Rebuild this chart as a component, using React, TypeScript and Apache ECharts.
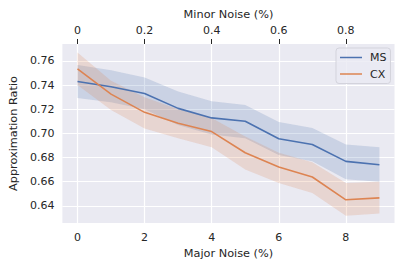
import React, { useEffect, useRef } from "react";
import * as echarts from "echarts";

const majorNoise = [0, 1, 2, 3, 4, 5, 6, 7, 8, 9];
const msMean = [0.743, 0.7386, 0.733, 0.7207, 0.7128, 0.7101, 0.6955, 0.6908, 0.6768, 0.674];
const msUpper = [0.7567, 0.7523, 0.7463, 0.7347, 0.7265, 0.7235, 0.7095, 0.7045, 0.6908, 0.6886];
const msLower = [0.7292, 0.7257, 0.72, 0.707, 0.699, 0.696, 0.682, 0.677, 0.662, 0.66];
const cxMean = [0.7534, 0.7325, 0.7174, 0.7084, 0.7015, 0.684, 0.6721, 0.6639, 0.645, 0.6466];
const cxUpper = [0.7669, 0.7435, 0.73, 0.72, 0.7128, 0.6975, 0.684, 0.676, 0.659, 0.66];
const cxLower = [0.74, 0.7194, 0.704, 0.696, 0.6886, 0.67, 0.659, 0.6507, 0.6318, 0.6337];
const majorTicks = [0, 2, 4, 6, 8];
const minorTicks = [0, 0.2, 0.4, 0.6, 0.8];
const yTicks = [0.64, 0.66, 0.68, 0.7, 0.72, 0.74, 0.76];

const BLUE = "#4C72B0";
const ORANGE = "#DD8452";
const TEXT = "#262626";
const FONT = "DejaVu Sans";

export default function App() {
  const ref = useRef<HTMLDivElement>(null);
  useEffect(() => {
    if (!ref.current) return;
    const chart = echarts.init(ref.current, null, { renderer: "svg" });
    const pairs = (ys: number[]) => majorNoise.map((x, i) => [x, ys[i]]);
    const band = (name: string, u: number[], l: number[], color: string) => ({
      type: "custom",
      name,
      silent: true,
      z: 1,
      data: [0],
      renderItem: (_p: any, api: any) => {
        const top = majorNoise.map((x, i) => api.coord([x, u[i]]));
        const bot = majorNoise.map((x, i) => api.coord([x, l[i]])).reverse();
        return {
          type: "polygon",
          shape: { points: top.concat(bot) },
          style: { fill: color, opacity: 0.2, stroke: color, lineWidth: 0.5, strokeOpacity: 0.1 },
        };
      },
    });
    chart.setOption({
      animation: false,
      backgroundColor: "#ffffff",
      textStyle: { fontFamily: FONT },
      grid: { left: 60.5, right: 12.5, top: 44, bottom: 48, show: true, backgroundColor: "#EAEAF2", borderWidth: 0 },
      legend: {
        orient: "vertical",
        left: 336,
        top: 48,
        data: ["MS", "CX"],
        icon: "rect",
        itemWidth: 22,
        itemHeight: 1.5,
        itemGap: 3.5,
        padding: [3, 4, 3, 4],
        backgroundColor: "rgba(234,234,242,0.8)",
        borderColor: "#d3d3dc",
        borderWidth: 1,
        borderRadius: 3,
        textStyle: { fontFamily: FONT, fontSize: 11, color: TEXT, lineHeight: 13, padding: [0, 0, 0, 3] },
      },
      xAxis: [
        {
          type: "value",
          position: "bottom",
          min: -0.45,
          max: 9.45,
          name: "Major Noise (%)",
          nameLocation: "middle",
          nameGap: 22,
          nameTextStyle: { fontFamily: FONT, fontSize: 11.3, color: TEXT },
          axisLine: { show: false },
          axisTick: { show: false, customValues: majorTicks },
          axisLabel: { customValues: majorTicks, margin: 9, fontFamily: FONT, fontSize: 11, color: TEXT },
          splitLine: { show: true, lineStyle: { color: "#ffffff", width: 1.2 } },
        },
        {
          type: "value",
          position: "top",
          min: -0.045,
          max: 0.945,
          name: "Minor Noise (%)",
          nameLocation: "middle",
          nameGap: 21,
          nameTextStyle: { fontFamily: FONT, fontSize: 11.3, color: TEXT },
          axisLine: { show: false },
          axisTick: { show: true, inside: false, length: 5, customValues: minorTicks, lineStyle: { color: TEXT, width: 1 } },
          axisLabel: {
            customValues: minorTicks,
            margin: 8,
            fontFamily: FONT,
            fontSize: 11,
            color: TEXT,
            formatter: (v: number) => (v === 0 ? "0" : String(Math.round(v * 10) / 10)),
          },
          splitLine: { show: false },
        },
      ],
      yAxis: {
        type: "value",
        min: 0.6258,
        max: 0.774,
        name: "Approximation Ratio",
        nameLocation: "middle",
        nameGap: 28.5,
        nameTextStyle: { fontFamily: FONT, fontSize: 11.3, color: TEXT },
        axisLine: { show: false },
        axisTick: { show: false, customValues: yTicks },
        axisLabel: { customValues: yTicks, margin: 8, fontFamily: FONT, fontSize: 11, color: TEXT, formatter: (v: number) => v.toFixed(2) },
        splitLine: { show: true, lineStyle: { color: "#ffffff", width: 1.2 } },
      },
      series: [
        band("msBand", msUpper, msLower, BLUE),
        {
          type: "line",
          name: "MS",
          data: pairs(msMean),
          showSymbol: false,
          color: BLUE,
          lineStyle: { color: BLUE, width: 1.6 },
          z: 3,
        },
        band("cxBand", cxUpper, cxLower, ORANGE),
        {
          type: "line",
          name: "CX",
          data: pairs(cxMean),
          showSymbol: false,
          color: ORANGE,
          lineStyle: { color: ORANGE, width: 1.6 },
          z: 3,
        },
      ],
    });
    return () => chart.dispose();
  }, []);
  return <div ref={ref} style={{ position: "fixed", left: 0, top: 0, width: 407, height: 271 }} />;
}
